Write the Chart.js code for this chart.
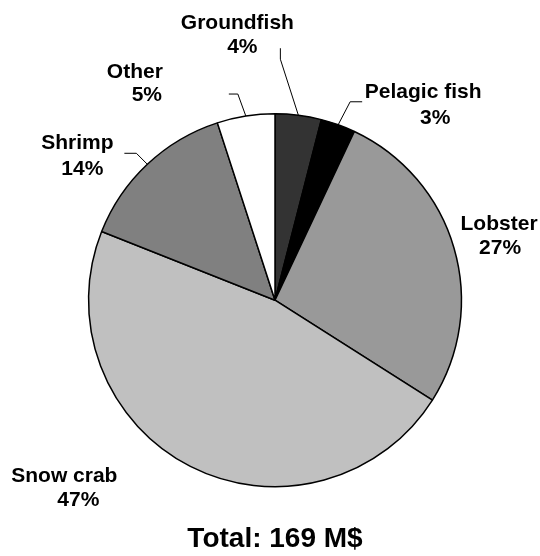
<!DOCTYPE html>
<html>
<head>
<meta charset="utf-8">
<script src="https://cdn.jsdelivr.net/npm/chart.js@4/dist/chart.umd.min.js"></script>
<style>
  html, body { margin: 0; padding: 0; background: #ffffff; }
  #wrap { width: 540px; height: 556px; }
</style>
</head>
<body>
<div id="wrap"><canvas id="c" width="540" height="556"></canvas></div>
<script>
// ---- data ----
const categories = ["Groundfish", "Pelagic fish", "Lobster", "Snow crab", "Shrimp", "Other"];
const shares = [4, 3, 27, 47, 14, 5];
const sliceColors = ["#333333", "#000000", "#999999", "#c0c0c0", "#808080", "#ffffff"];
const totalLabel = "Total: 169 M$";

// ---- label layout (offsets relative to each slice's outer mid point) ----
const labelLayout = [
  { line1: [-61, -86], line2: [-56, -62], leader: [[-18, -56], [-18, -67]] },
  { line1: [85, -27],  line2: [97, -1],   leader: [[12, -23], [24, -23]] },
  { line1: [45, -18],  line2: [46, 6],    leader: null },
  { line1: [-126, 16], line2: [-112, 40], leader: null },
  { line1: [-70, -15], line2: [-65, 11],  leader: [[-11, -11], [-23, -11]] },
  { line1: [-111, -38], line2: [-99, -15], leader: [[-8, -22], [-17, -22]] }
];

const pieLabels = {
  id: 'pieLabels',
  afterDraw(chart) {
    const ctx = chart.ctx;
    const meta = chart.getDatasetMeta(0);
    ctx.save();
    meta.data.forEach((arc, i) => {
      const p = arc.getProps(['x', 'y', 'startAngle', 'endAngle', 'outerRadius'], true);
      const mid = (p.startAngle + p.endAngle) / 2;
      const ax = p.x + Math.cos(mid) * p.outerRadius;
      const ay = p.y + Math.sin(mid) * p.outerRadius;
      const lay = labelLayout[i];
      if (lay.leader) {
        ctx.beginPath();
        ctx.strokeStyle = '#000';
        ctx.lineWidth = 1;
        ctx.moveTo(ax, ay);
        lay.leader.forEach(pt => ctx.lineTo(ax + pt[0], ay + pt[1]));
        ctx.stroke();
      }
      ctx.fillStyle = '#000';
      ctx.font = 'bold 21px "Liberation Sans", Arial, sans-serif';
      ctx.textAlign = 'center';
      ctx.textBaseline = 'alphabetic';
      ctx.fillText(chart.data.labels[i], ax + lay.line1[0], ay + lay.line1[1]);
      ctx.fillText(chart.data.datasets[0].data[i] + '%', ax + lay.line2[0], ay + lay.line2[1]);
    });
    ctx.restore();
  }
};

new Chart(document.getElementById('c'), {
  type: 'pie',
  data: {
    labels: categories,
    datasets: [{
      data: shares,
      backgroundColor: sliceColors,
      borderColor: '#000000',
      borderWidth: 1.5,
      borderAlign: 'center'
    }]
  },
  options: {
    responsive: false,
    animation: false,
    devicePixelRatio: 1,
    layout: { padding: { top: 113, left: 10, right: 0, bottom: 0 } },
    plugins: {
      legend: { display: false },
      tooltip: { enabled: false },
      title: {
        display: true,
        text: totalLabel,
        position: 'bottom',
        color: '#000',
        font: { family: '"Liberation Sans", Arial, sans-serif', size: 28, weight: 'bold', lineHeight: 1.2 },
        padding: { top: 35, bottom: 0 }
      }
    }
  },
  plugins: [pieLabels]
});
</script>
</body>
</html>
